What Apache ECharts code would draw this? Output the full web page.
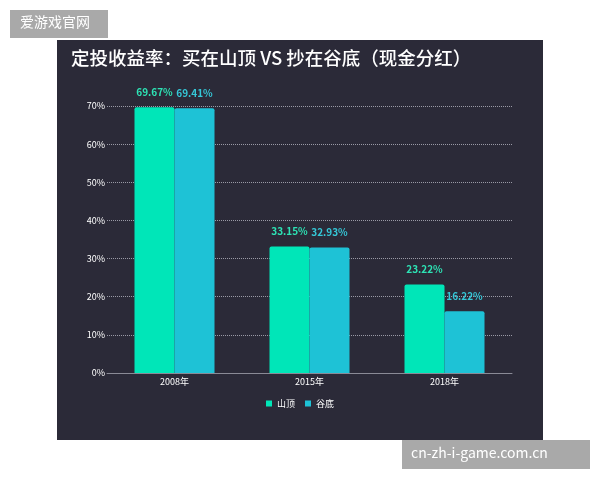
<!DOCTYPE html>
<html>
<head>
<meta charset="utf-8">
<script src="https://cdn.jsdelivr.net/npm/echarts@6/dist/echarts.min.js"></script>
<style>html,body{margin:0;padding:0;background:#fff}#chart{width:600px;height:480px}</style>
</head>
<body>
<div id="chart"></div>
<script>
var categories = ['2008年', '2015年', '2018年'];
var peakValues = [69.67, 33.15, 23.22];
var valleyValues = [69.41, 32.93, 16.22];
var seriesNames = ['山顶', '谷底'];

var font = '"Noto Sans CJK SC", sans-serif';
var chart = echarts.init(document.getElementById('chart'));
chart.setOption({
    backgroundColor: '#ffffff',
    graphic: [
        {type: 'rect', z: -10, shape: {x: 57, y: 40, width: 486, height: 400}, style: {fill: '#2b2a38'}},
        {type: 'text', left: 71, top: 49, style: {text: '定投收益率：买在山顶 VS 抄在谷底（现金分红）', fill: '#ffffff', font: '500 18.5px ' + font}},
        {type: 'rect', shape: {x: 10, y: 10, width: 98, height: 28}, style: {fill: '#a9a9a9'}},
        {type: 'text', left: 20, top: 15, style: {text: '爱游戏官网', fill: '#ffffff', font: '14px ' + font}},
        {type: 'rect', shape: {x: 402, y: 440, width: 188, height: 29}, style: {fill: '#a9a9a9'}},
        {type: 'text', left: 411, top: 446, style: {text: 'cn-zh-i-game.com.cn', fill: '#ffffff', font: '14px ' + font}}
    ],
    grid: {left: 107, right: 88, top: 106, bottom: 107},
    legend: {
        data: seriesNames, bottom: 67, left: 'center', itemWidth: 6, itemHeight: 6, itemGap: 10,
        icon: 'rect', textStyle: {color: '#ffffff', fontSize: 9, fontFamily: font}
    },
    xAxis: {
        type: 'category', data: categories,
        axisLine: {lineStyle: {color: '#8a8a96', width: 1}},
        axisTick: {show: false},
        axisLabel: {color: '#ffffff', fontSize: 9, fontFamily: font, margin: 4}
    },
    yAxis: {
        type: 'value', min: 0, max: 70, interval: 10,
        axisLine: {show: false}, axisTick: {show: false},
        axisLabel: {formatter: '{value}%', color: '#ffffff', fontSize: 9, fontFamily: font, margin: 2},
        splitLine: {lineStyle: {color: '#9a9aa6', type: 'dotted'}}
    },
    series: [
        {
            name: seriesNames[0], type: 'bar', data: peakValues, barWidth: 40, barGap: '0%',
            itemStyle: {color: '#00e6b8', borderRadius: [2, 2, 0, 0]},
            label: {show: true, position: 'top', distance: 10, formatter: '{c}%', color: '#2de3b5', fontSize: 10, fontWeight: 'bold', fontFamily: font}
        },
        {
            name: seriesNames[1], type: 'bar', data: valleyValues, barWidth: 40,
            itemStyle: {color: '#1ec2d6', borderRadius: [2, 2, 0, 0]},
            label: {show: true, position: 'top', distance: 10, formatter: '{c}%', color: '#35c8d8', fontSize: 10, fontWeight: 'bold', fontFamily: font}
        }
    ]
});
</script>
</body>
</html>
